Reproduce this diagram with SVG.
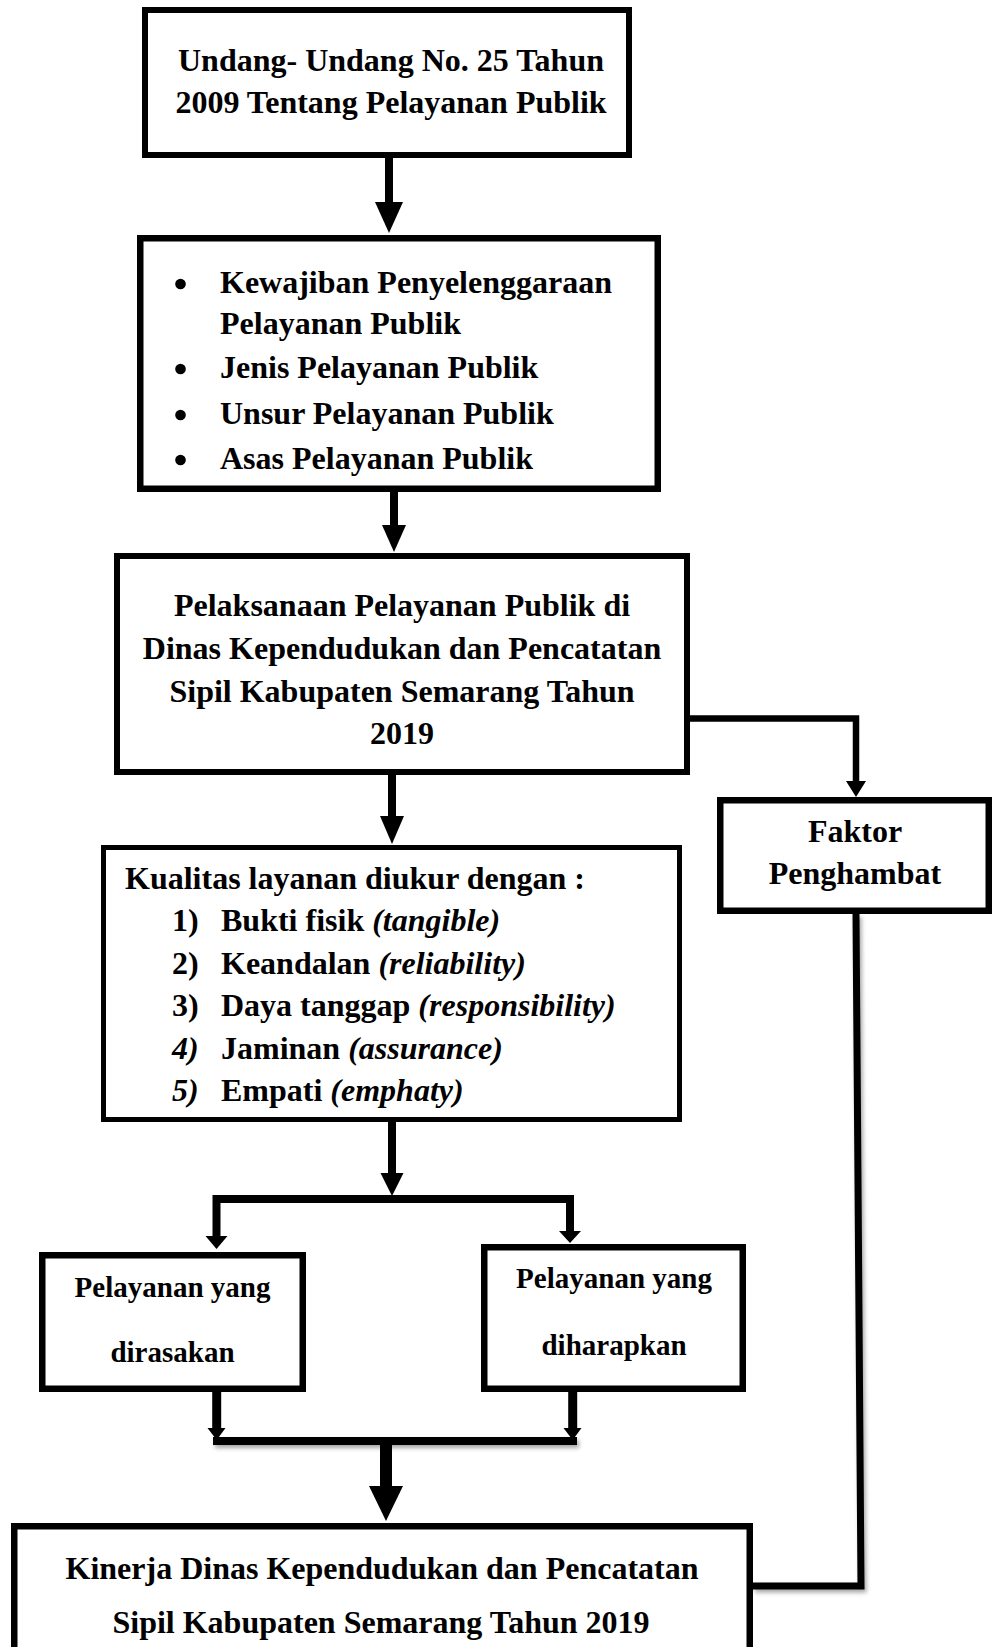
<svg xmlns="http://www.w3.org/2000/svg" width="995" height="1647" viewBox="0 0 995 1647">
<style>
.box{fill:#fff;stroke:#000;stroke-linejoin:miter}
.t{font-family:"Liberation Serif","Times New Roman",serif;font-weight:bold;font-size:32px;fill:#000}
.s{font-size:29px}
.c{text-anchor:middle}
.i{font-style:italic}
.ln{fill:none;stroke:#000;stroke-linejoin:miter;stroke-linecap:butt}
.hd{fill:#000}
</style>
<defs>
<filter id="sh" filterUnits="userSpaceOnUse" x="0" y="0" width="995" height="1647">
<feDropShadow dx="2" dy="3" stdDeviation="2" flood-color="#000" flood-opacity="0.35"/>
</filter>
</defs>
<rect width="995" height="1647" fill="#fff"/>

<g id="connectors">
<line class="ln" x1="389" y1="158" x2="389" y2="204" stroke-width="8"/>
<polygon class="hd" points="375,202 403,202 389,233"/>
<line class="ln" x1="394" y1="492" x2="394" y2="527" stroke-width="8"/>
<polygon class="hd" points="382,525 406,525 394,552"/>
<line class="ln" x1="392" y1="775" x2="392" y2="818" stroke-width="8"/>
<polygon class="hd" points="380,816 404,816 392,844"/>
<line class="ln" x1="392" y1="1122" x2="392" y2="1175" stroke-width="8"/>
<polygon class="hd" points="380.5,1173 403.5,1173 392,1196"/>
<polyline class="ln" points="216.5,1237 216.5,1199 570,1199 570,1232" stroke-width="8"/>
<polygon class="hd" points="205.5,1236 227.5,1236 216.5,1249"/>
<polygon class="hd" points="559,1231 581,1231 570,1243"/>
<line class="ln" x1="216.7" y1="1392" x2="216.7" y2="1429" stroke-width="9"/>
<polygon class="hd" points="207.5,1428 225.5,1428 216.7,1440"/>
<line class="ln" x1="572.7" y1="1392" x2="572.7" y2="1429" stroke-width="9"/>
<polygon class="hd" points="563.5,1428 581.5,1428 572.7,1440"/>
<line class="ln" x1="213" y1="1441" x2="577" y2="1441" stroke-width="8" filter="url(#sh)"/>
<line class="ln" x1="386" y1="1445" x2="386" y2="1488" stroke-width="12"/>
<polygon class="hd" points="369,1486 403,1486 386,1521"/>
<polyline class="ln" points="690,718.5 856,718.5 856,783" stroke-width="6.5"/>
<polygon class="hd" points="846,781 866,781 856,797"/>
<polyline class="ln" points="856,914 861,1586 753,1586" stroke-width="7" filter="url(#sh)"/>
</g>

<g id="node-uu">
<rect class="box" x="145" y="10" width="484" height="145" stroke-width="6"/>
<text class="t c" x="391" y="71">Undang- Undang No. 25 Tahun</text>
<text class="t c" x="391" y="113">2009 Tentang Pelayanan Publik</text>
</g>

<g id="node-list">
<rect class="box" x="140.25" y="238.25" width="517.5" height="250.5" stroke-width="6.5"/>
<circle cx="180.5" cy="284" r="5.3"/>
<circle cx="180.5" cy="369" r="5.3"/>
<circle cx="180.5" cy="415" r="5.3"/>
<circle cx="180.5" cy="460" r="5.3"/>
<text class="t" x="220" y="293">Kewajiban Penyelenggaraan</text>
<text class="t" x="220" y="334">Pelayanan Publik</text>
<text class="t" x="220" y="378">Jenis Pelayanan Publik</text>
<text class="t" x="220" y="424">Unsur Pelayanan Publik</text>
<text class="t" x="220" y="469">Asas Pelayanan Publik</text>
</g>

<g id="node-pelaksanaan">
<rect class="box" x="117" y="556" width="570" height="216" stroke-width="6"/>
<text class="t c" x="402" y="616">Pelaksanaan Pelayanan Publik di</text>
<text class="t c" x="402" y="659">Dinas Kependudukan dan Pencatatan</text>
<text class="t c" x="402" y="702">Sipil Kabupaten Semarang Tahun</text>
<text class="t c" x="402" y="744">2019</text>
</g>

<g id="node-faktor">
<rect class="box" x="720.25" y="800.25" width="268.5" height="110.5" stroke-width="6.5"/>
<text class="t c" x="855" y="842">Faktor</text>
<text class="t c" x="855" y="884">Penghambat</text>
</g>

<g id="node-kualitas">
<rect class="box" x="103.5" y="847.5" width="576" height="272" stroke-width="5"/>
<text class="t" x="125" y="889">Kualitas layanan diukur dengan :</text>
<text class="t" x="172" y="931">1)</text>
<text class="t" x="221" y="931">Bukti fisik <tspan class="i">(tangible)</tspan></text>
<text class="t" x="172" y="974">2)</text>
<text class="t" x="221" y="974">Keandalan <tspan class="i">(reliability)</tspan></text>
<text class="t" x="172" y="1016">3)</text>
<text class="t" x="221" y="1016">Daya tanggap <tspan class="i">(responsibility)</tspan></text>
<text class="t i" x="172" y="1059">4)</text>
<text class="t" x="221" y="1059">Jaminan <tspan class="i">(assurance)</tspan></text>
<text class="t i" x="172" y="1101">5)</text>
<text class="t" x="221" y="1101">Empati <tspan class="i">(emphaty)</tspan></text>
</g>

<g id="node-dirasakan">
<rect class="box" x="42.25" y="1255.25" width="260.5" height="133.5" stroke-width="6.5"/>
<text class="t s c" x="172.5" y="1297">Pelayanan yang</text>
<text class="t s c" x="172.5" y="1362">dirasakan</text>
</g>

<g id="node-diharapkan">
<rect class="box" x="484.25" y="1247.25" width="258.5" height="141.5" stroke-width="6.5"/>
<text class="t s c" x="614" y="1288">Pelayanan yang</text>
<text class="t s c" x="614" y="1355">diharapkan</text>
</g>

<g id="node-kinerja">
<rect class="box" x="14.25" y="1526.25" width="735.5" height="200" stroke-width="6.5"/>
<text class="t c" x="382" y="1579">Kinerja Dinas Kependudukan dan Pencatatan</text>
<text class="t c" x="381" y="1633">Sipil Kabupaten Semarang Tahun 2019</text>
</g>
</svg>
